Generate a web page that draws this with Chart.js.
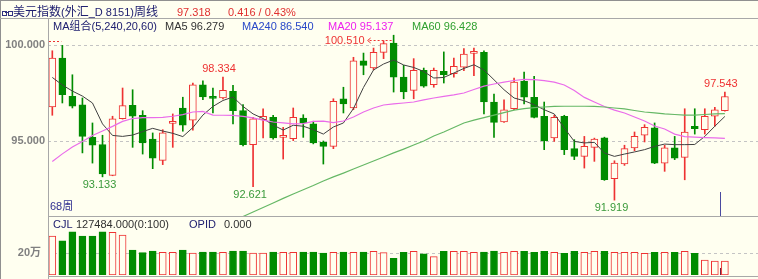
<!DOCTYPE html>
<html><head><meta charset="utf-8">
<script src="https://cdn.jsdelivr.net/npm/chart.js@4.4.0/dist/chart.umd.min.js"></script>
<style>
html,body{margin:0;padding:0;background:#fffff0;}
#wrap{position:relative;width:758px;height:279px;overflow:hidden;background:#fffff0;font-family:"Liberation Sans","Noto Sans CJK SC",sans-serif;font-size:11px;}
.t{position:absolute;white-space:nowrap;line-height:13px;}
.c{font-size:12px;}
.ln{position:absolute;background:#a8a8a8;}
canvas{position:absolute;left:0;}
</style></head>
<body><div id="wrap">
<canvas id="main" width="758" height="182" style="top:34px"></canvas>
<canvas id="vol" width="758" height="46" style="top:229px"></canvas>
<div class="ln" style="left:0;top:0;width:758px;height:1px;background:#909090"></div>
<div class="ln" style="left:0;top:0;width:1px;height:279px;background:#909090"></div>
<div class="ln" style="left:0;top:18px;width:758px;height:1px;"></div>
<div class="ln" style="left:48px;top:18px;width:1px;height:261px;"></div>
<div class="ln" style="left:48px;top:216px;width:710px;height:1px;"></div>
<div class="ln" style="left:48px;top:276px;width:710px;height:1px;"></div>
<div style="position:absolute;left:2px;top:11px;width:3px;height:3px;border:1px solid #303080"></div>
<div style="position:absolute;left:5px;top:12px;width:3px;height:1px;background:#303080"></div>
<div style="position:absolute;left:8px;top:11px;width:3px;height:3px;border:1px solid #303080"></div>
<div class="t" style="left:13px;top:6px;color:#202070"><span class="c">美元指数</span>(<span class="c">外汇</span>_D 8151)<span class="c">周线</span></div>
<div class="t" style="left:177px;top:6px;color:#e03030">97.318</div>
<div class="t" style="left:228px;top:6px;color:#e03030">0.416 / 0.43%</div>
<div class="t" style="left:53px;top:20px;color:#202070">MA组合(5,240,20,60)</div>
<div class="t" style="left:165px;top:20px;color:#333333">MA5 96.279</div>
<div class="t" style="left:242px;top:20px;color:#2848c8">MA240 86.540</div>
<div class="t" style="left:328px;top:20px;color:#ee22ee">MA20 95.137</div>
<div class="t" style="left:412px;top:20px;color:#30a030">MA60 96.428</div>
<div class="t" style="left:50px;top:200px;color:#303090">68周</div>
<div class="t" style="left:53px;top:218px;color:#202070">CJL</div>
<div class="t" style="left:76px;top:218px;color:#303030">127484.000(0:100)</div>
<div class="t" style="left:189px;top:218px;color:#202070">OPID</div>
<div class="t" style="left:224px;top:218px;color:#303030">0.000</div>
</div>
<script>
// ---- data (weekly candles, left to right) ----
const opens  = [96.77,99.32,97.33,96.89,95.19,94.81,93.21,96.16,96.86,96.34,95.10,93.99,95.92,96.72,96.09,97.93,97.26,97.24,97.59,96.58,94.81,96.11,96.23,95.19,95.12,96.20,95.89,94.93,94.72,97.19,96.72,99.18,98.80,99.62,100.10,98.33,97.64,98.68,97.93,98.63,98.51,98.85,99.56,99.62,97.03,95.99,96.68,98.11,97.28,96.29,95.16,96.29,94.60,94.20,94.67,95.16,93.04,93.80,94.64,95.30,95.68,93.85,94.64,94.15,95.77,95.59,96.29,96.58];
const highs  = [99.70,99.98,98.45,97.24,95.94,95.30,96.29,97.76,97.67,96.58,95.42,95.59,96.41,97.28,98.02,98.14,97.76,98.334,97.90,96.90,96.23,96.67,96.34,95.71,96.72,96.37,96.03,95.00,97.20,97.80,99.36,99.58,99.84,100.22,100.510,98.94,99.29,98.80,98.80,99.64,99.32,99.81,99.84,99.70,97.45,97.15,98.28,98.59,98.37,97.03,96.34,96.34,95.07,95.24,95.15,95.20,93.97,94.78,95.47,95.85,95.94,94.78,95.24,96.68,96.68,96.68,96.76,97.543];
const lows   = [96.34,96.98,96.72,94.38,93.85,93.133,93.19,96.14,94.67,94.32,93.56,93.77,94.67,95.51,95.57,97.15,96.46,97.19,95.89,94.75,92.621,95.16,95.10,94.06,95.02,95.19,94.85,93.80,94.60,96.46,96.63,98.45,98.71,99.29,97.55,97.20,97.20,97.80,97.80,98.02,98.32,98.66,98.40,96.41,95.19,95.97,96.63,96.93,96.20,94.55,94.98,94.29,94.03,93.59,93.94,92.95,91.919,93.73,94.49,94.95,93.82,93.42,94.03,92.98,95.36,95.36,95.77,96.55];
const closes = [99.32,97.41,96.81,95.24,94.78,93.28,96.16,96.84,96.29,94.90,94.11,95.42,95.96,95.82,97.93,97.29,97.22,97.64,96.58,94.81,96.16,96.29,95.16,95.23,96.23,95.94,94.90,94.72,97.07,96.93,99.18,98.94,99.62,100.07,98.32,97.55,98.68,97.85,98.68,98.45,98.89,99.53,99.60,97.03,95.97,96.63,98.07,97.28,96.23,95.02,96.23,94.55,94.20,94.72,95.10,92.98,93.85,94.60,95.24,95.71,93.85,94.64,94.11,95.47,95.64,96.29,96.63,97.318];
const volumes = [359000,316000,399000,359000,359000,399000,393000,369000,230000,206000,221000,209000,209000,230000,203000,212000,212000,209000,221000,221000,203000,203000,212000,209000,209000,212000,212000,203000,209000,212000,209000,212000,218000,206000,154000,209000,218000,194000,169000,218000,218000,218000,209000,212000,221000,209000,218000,218000,209000,218000,209000,200000,218000,209000,218000,218000,209000,209000,209000,200000,209000,209000,209000,218000,200000,138000,129000,127484];
const ma5  = [98.31,97.92,97.60,97.34,96.98,95.89,95.29,95.24,95.31,95.49,95.66,95.52,95.40,95.23,95.70,96.35,96.80,97.11,97.29,96.80,96.41,96.17,95.83,95.57,95.82,95.77,95.59,95.36,95.73,95.94,96.69,97.79,98.70,99.01,99.22,98.96,98.83,98.62,98.28,98.31,98.54,98.78,98.97,98.70,98.19,97.67,97.24,97.10,96.89,96.63,96.41,95.68,94.98,94.90,94.93,94.375,94.20,94.32,94.43,94.55,94.72,94.84,94.81,94.81,94.82,95.24,95.77,96.279];
const ma20 = [93.93,94.33,94.69,94.97,95.29,95.52,95.76,96.02,96.17,96.22,96.22,96.23,96.29,96.37,96.51,96.54,96.35,96.34,96.33,96.28,96.20,96.09,95.99,95.94,95.89,95.91,96.02,96.04,95.96,96.04,96.25,96.51,96.72,96.875,96.93,96.98,97.03,97.14,97.24,97.32,97.40,97.50,97.68,97.86,97.97,98.07,98.15,98.21,98.20,98.14,98.07,97.92,97.63,97.27,97.03,96.80,96.61,96.46,96.25,96.04,95.78,95.625,95.36,95.23,95.20,95.18,95.16,95.137];
const ma60 = [null,null,null,null,null,null,null,null,null,null,null,null,null,null,null,null,null,null,90.83,91.07,91.30,91.54,91.77,92.01,92.24,92.46,92.68,92.92,93.13,93.33,93.54,93.75,93.96,94.17,94.38,94.58,94.79,95.00,95.26,95.47,95.70,95.94,96.09,96.22,96.35,96.48,96.61,96.69,96.74,96.77,96.80,96.81,96.81,96.81,96.80,96.77,96.72,96.67,96.59,96.51,96.46,96.41,96.38,96.35,96.35,96.38,96.41,96.428];
const priceTicks = [95, 100];
const volTicks = [200000];
const highMarks = [17, 67];      // candle indexes labelled with their high
const lowMarks = [5, 20, 56];    // candle indexes labelled with their low
const arrowMark = 34;            // period high, labelled with an arrow
const prevHighMark = 100.22;     // small red dashed marker at the left edge
const cursorX = 67.5;

// ---- styles ----
const RED = '#ee3232', GREEN = '#008c00', BG = '#fffff0';
const FONT = '"Liberation Sans","Noto Sans CJK SC",sans-serif';
const X_MIN = 0.57, X_MAX = 71.3;
const P_MIN = 91.094, P_MAX = 100.573;
const V_MAX = 424000;

const pos = closes.map((_, i) => i + 1);
const isUp = closes.map((c, i) => c >= opens[i]);

function yAxis(min, max, ticks, fmt, pad) {
  return {
    min, max, position: 'left',
    afterFit(s) { s.width = 48; s.paddingTop = 0; s.paddingBottom = 0; },
    afterBuildTicks(s) { s.ticks = ticks.map(v => ({ value: v })); },
    ticks: { callback: fmt, color: '#808080', padding: pad, font: { family: FONT, size: 11, weight: 'bold' } },
    grid: { color: '#c4c4c4', drawTicks: false, lineWidth: 1 },
    border: { display: false, dash: [3, 3] }
  };
}
const xAxis = { type: 'linear', min: X_MIN, max: X_MAX, display: false, offset: false, grid: { offset: false } };

const annot = {
  id: 'annot',
  afterDatasetsDraw(chart) {
    const { ctx, scales: { x, y }, chartArea } = chart;
    ctx.save();
    ctx.font = '11px ' + FONT;
    ctx.textAlign = 'center'; ctx.textBaseline = 'middle';
    highMarks.forEach(i => {
      ctx.fillStyle = RED;
      ctx.fillText(highs[i].toFixed(3), x.getPixelForValue(pos[i]) - 4, y.getPixelForValue(highs[i]) - 8);
    });
    lowMarks.forEach(i => {
      ctx.fillStyle = '#3a9a3a';
      ctx.fillText(lows[i].toFixed(3), x.getPixelForValue(pos[i]) - 3, y.getPixelForValue(lows[i]) + 8);
    });
    // arrow label for the period high
    const ax = x.getPixelForValue(pos[arrowMark]);
    const ay = y.getPixelForValue(highs[arrowMark]) + 6;
    ctx.fillStyle = RED; ctx.textAlign = 'right';
    ctx.fillText(highs[arrowMark].toFixed(3), ax - 29, ay);
    ctx.strokeStyle = RED; ctx.lineWidth = 1;
    ctx.setLineDash([2, 2]);
    ctx.beginPath(); ctx.moveTo(ax - 24, Math.round(ay) - 0.5); ctx.lineTo(ax, Math.round(ay) - 0.5); ctx.stroke();
    ctx.setLineDash([]);
    ctx.beginPath(); ctx.moveTo(ax - 23, Math.round(ay) - 3); ctx.lineTo(ax - 26, Math.round(ay) - 0.5); ctx.lineTo(ax - 23, Math.round(ay) + 2); ctx.stroke();
    // small dashed marker near the left edge
    const my = Math.round(y.getPixelForValue(prevHighMark)) + 0.5;
    ctx.setLineDash([2, 2]);
    ctx.beginPath(); ctx.moveTo(chartArea.left + 1, my); ctx.lineTo(x.getPixelForValue(pos[0]) + 9, my); ctx.stroke();
    ctx.setLineDash([]);
    // cursor
    const cx = Math.round(x.getPixelForValue(cursorX)) + 0.5;
    ctx.strokeStyle = '#4a4aa0';
    ctx.beginPath(); ctx.moveTo(cx, chartArea.bottom - 24); ctx.lineTo(cx, chartArea.bottom); ctx.stroke();
    ctx.restore();
  }
};

const line = (arr, color, w) => ({
  type: 'line', data: pos.map((x, i) => ({ x, y: arr[i] })), borderColor: color, borderWidth: w,
  pointRadius: 0, tension: 0, order: 0
});

new Chart(document.getElementById('main'), {
  type: 'bar',
  data: {
    datasets: [
      line(ma60, '#66b866', 1.2),
      line(ma20, '#ea6cea', 1.2),
      line(ma5, '#404040', 1),
      { type: 'bar', data: pos.map((x, i) => ({ x, y: [opens[i], closes[i]] })),
        backgroundColor: isUp.map(u => u ? BG : GREEN), borderColor: isUp.map(u => u ? RED : GREEN),
        borderWidth: 1, borderSkipped: false, barThickness: 7, grouped: false, minBarLength: 2, order: 1 },
      { type: 'bar', data: pos.map((x, i) => ({ x, y: [lows[i], highs[i]] })),
        backgroundColor: isUp.map(u => u ? RED : GREEN), borderWidth: 0, barThickness: 1, grouped: false, order: 2 }
    ]
  },
  options: {
    responsive: false, animation: false, maintainAspectRatio: false,
    layout: { padding: 0 },
    plugins: { legend: { display: false }, tooltip: { enabled: false } },
    scales: { x: xAxis, y: yAxis(P_MIN, P_MAX, priceTicks, v => Number(v).toFixed(3), 3) }
  },
  plugins: [annot]
});

const volCursor = {
  id: 'volCursor',
  afterDatasetsDraw(chart) {
    const { ctx, scales: { x }, chartArea } = chart;
    const cx = Math.round(x.getPixelForValue(cursorX)) + 0.5;
    ctx.save(); ctx.strokeStyle = '#702040'; ctx.lineWidth = 1;
    ctx.beginPath(); ctx.moveTo(cx, chartArea.bottom - 7); ctx.lineTo(cx, chartArea.bottom); ctx.stroke();
    ctx.restore();
  }
};

new Chart(document.getElementById('vol'), {
  type: 'bar',
  data: {
    datasets: [{ data: pos.map((x, i) => ({ x, y: volumes[i] })),
      backgroundColor: isUp.map(u => u ? BG : GREEN), borderColor: isUp.map(u => u ? RED : GREEN),
      borderWidth: 1, borderSkipped: false, barThickness: 7, grouped: false }]
  },
  options: {
    responsive: false, animation: false, maintainAspectRatio: false,
    layout: { padding: 0 },
    plugins: { legend: { display: false }, tooltip: { enabled: false } },
    scales: { x: xAxis, y: yAxis(0, V_MAX, volTicks, v => (v / 10000) + '万', 7) }
  },
  plugins: [volCursor]
});
</script>
</body></html>
